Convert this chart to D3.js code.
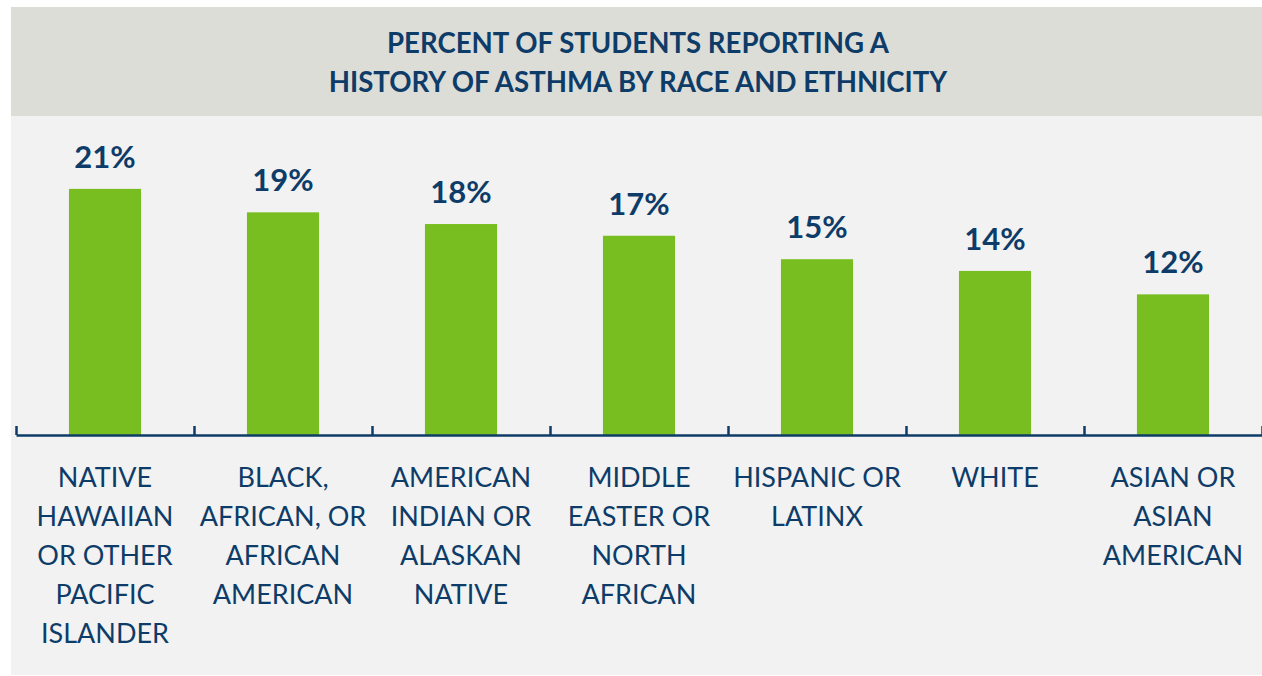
<!DOCTYPE html>
<html>
<head>
<meta charset="utf-8">
<script src="https://cdn.jsdelivr.net/npm/d3@7"></script>
<style>
	body { margin: 0; background: #fff; }
	svg { display: block; font-family: Lato, "Open Sans", sans-serif; }
</style>
</head>
<body>
<div id="chart-area"><svg></svg></div>
<script>
const chartSize = { width: 1262, height: 676 };
const panel = { left: 11, top: 7, headerBottom: 116, bottom: 675 };
const plot = { left: 16, right: 1262, baseline: 435, top: 142 };

const titleLines = ["PERCENT OF STUDENTS REPORTING A", "HISTORY OF ASTHMA BY RACE AND ETHNICITY"];
const categories = [
	["NATIVE", "HAWAIIAN", "OR OTHER", "PACIFIC", "ISLANDER"],
	["BLACK,", "AFRICAN, OR", "AFRICAN", "AMERICAN"],
	["AMERICAN", "INDIAN OR", "ALASKAN", "NATIVE"],
	["MIDDLE", "EASTER OR", "NORTH", "AFRICAN"],
	["HISPANIC OR", "LATINX"],
	["WHITE"],
	["ASIAN OR", "ASIAN", "AMERICAN"]
];
const values = [21, 19, 18, 17, 15, 14, 12];
const valueLabels = ["21%", "19%", "18%", "17%", "15%", "14%", "12%"];

const navy = "#0e3c68";
const green = "#78be21";

const svg = d3
	.select("#chart-area svg")
	.attr("width", chartSize.width)
	.attr("height", chartSize.height);

// panel backgrounds
svg.append("rect")
	.attr("x", panel.left)
	.attr("y", panel.top)
	.attr("width", chartSize.width - panel.left)
	.attr("height", panel.headerBottom - panel.top)
	.attr("fill", "#ddddd8");

svg.append("rect")
	.attr("x", panel.left)
	.attr("y", panel.headerBottom)
	.attr("width", chartSize.width - panel.left)
	.attr("height", panel.bottom - panel.headerBottom)
	.attr("fill", "#f2f2f2");

svg.append("text")
	.attr("text-anchor", "middle")
	.attr("font-weight", 700)
	.attr("font-size", 27.6)
	.attr("fill", navy)
	.selectAll("tspan")
	.data(titleLines)
	.join("tspan")
	.attr("x", 638)
	.attr("y", (d, i) => 53 + i * 39)
	.text(d => d);

const keys = d3.range(categories.length);

const x = d3
	.scaleBand()
	.domain(keys)
	.range([plot.left, plot.right])
	.paddingInner(0.595)
	.paddingOuter(0.2975);

const y = d3
	.scaleLinear()
	.domain([0, 25])
	.range([plot.baseline, plot.top]);

const g = svg.append("g").attr("class", "bars");

g.selectAll("rect")
	.data(values)
	.join("rect")
	.attr("x", (d, i) => x(i))
	.attr("y", d => y(d))
	.attr("width", x.bandwidth())
	.attr("height", d => y(0) - y(d))
	.attr("fill", green);

g.selectAll("text.value")
	.data(values)
	.join("text")
	.attr("class", "value")
	.attr("x", (d, i) => x(i) + x.bandwidth() / 2)
	.attr("y", d => y(d) - 21)
	.attr("text-anchor", "middle")
	.attr("font-weight", 700)
	.attr("font-size", 31)
	.attr("fill", navy)
	.text((d, i) => valueLabels[i]);

// boundary ticks pointing up from the baseline
const edges = d3
	.scaleLinear()
	.domain([0, categories.length])
	.range([plot.left, plot.right]);

const axis = svg
	.append("g")
	.attr("transform", `translate(0,${plot.baseline})`)
	.call(
		d3.axisBottom(edges)
			.tickValues(d3.range(categories.length + 1))
			.tickSizeInner(-9)
			.tickSizeOuter(0)
			.tickFormat("")
	);
axis.selectAll("path, line").attr("stroke", navy).attr("stroke-width", 2.5);

const labels = svg.append("g").attr("class", "cat-labels");

labels.selectAll("text")
	.data(categories)
	.join("text")
	.attr("text-anchor", "middle")
	.attr("font-size", 27)
	.attr("fill", navy)
	.each(function(lines, i) {
		d3.select(this)
			.selectAll("tspan")
			.data(lines)
			.join("tspan")
			.attr("x", x(i) + x.bandwidth() / 2)
			.attr("y", (d, j) => 487 + j * 39)
			.text(d => d);
	});
</script>
</body>
</html>
